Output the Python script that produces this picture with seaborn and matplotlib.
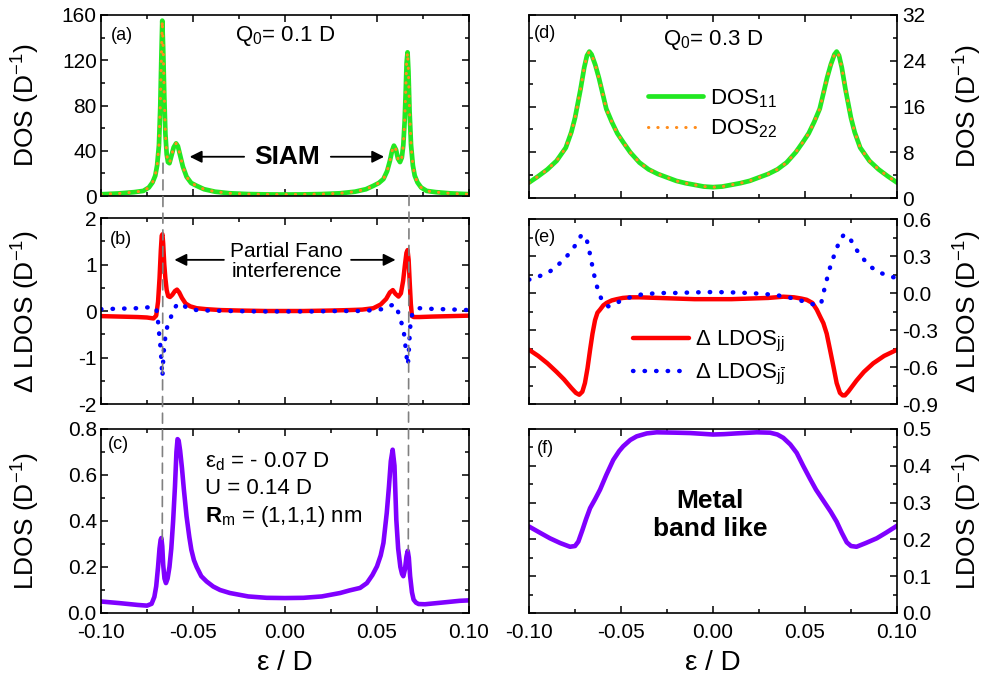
import matplotlib
matplotlib.use("Agg")
import matplotlib.pyplot as plt
from matplotlib.patches import ConnectionPatch
from matplotlib.ticker import MultipleLocator, FormatStrFormatter
import seaborn as sns

# ---- data (energy eps/D, values in 1/D) ----
# (a) Q0 = 0.1 D, DOS11 and DOS22 coincide
eps_a = [-0.100, -0.090, -0.082, -0.077, -0.074, -0.072, -0.0705, -0.0695, -0.0685, -0.0678,
         -0.0672, -0.0667, -0.0662, -0.0656, -0.0650, -0.0643, -0.0636, -0.0628, -0.0618, -0.0605,
         -0.0592, -0.0582, -0.0570, -0.0555, -0.0535, -0.0510, -0.0480, -0.0440, -0.0380, -0.0300,
         -0.0200, -0.0100, 0.0,
         0.0100, 0.0200, 0.0300, 0.0380, 0.0440, 0.0480, 0.0510, 0.0535, 0.0555, 0.0570,
         0.0582, 0.0592, 0.0603, 0.0614, 0.0625, 0.0635, 0.0643, 0.0650, 0.0656, 0.0661,
         0.0666, 0.0671, 0.0677, 0.0685, 0.0695, 0.0705, 0.0720, 0.0740, 0.0770, 0.0820,
         0.0900, 0.1000]
dos_a = [1.5, 2.3, 3.4, 4.5, 7.5, 12, 18, 27, 45, 78,
         122, 155, 130, 88, 55, 37, 30, 29, 35, 43,
         46.5, 44, 36, 26, 17, 11.5, 9, 6, 3.8, 2.4,
         1.7, 1.4, 1.3,
         1.4, 1.7, 2.4, 3.8, 6, 9, 11.5, 15, 22, 31,
         40, 44.5, 41, 33, 30, 34, 45, 65, 92, 118,
         127, 110, 75, 45, 27, 18, 12, 7.5, 4.5, 3.4,
         2.3, 1.6]

# (b) Q0 = 0.1 D, Delta LDOS_jj (red) and Delta LDOS_jj-bar (blue)
eps_b_jj = [-0.100, -0.090, -0.080, -0.075, -0.0715, -0.0700, -0.0690, -0.0682, -0.0675, -0.0670,
            -0.0666, -0.0662, -0.0656, -0.0650, -0.0643, -0.0635, -0.0625, -0.0612, -0.0598, -0.0587,
            -0.0575, -0.0560, -0.0540, -0.0515, -0.0480, -0.0430, -0.0350, -0.0250, -0.0100, 0.0,
            0.0100, 0.0250, 0.0350, 0.0420, 0.0480, 0.0520, 0.0550, 0.0570, 0.0586, 0.0600,
            0.0617, 0.0630, 0.0642, 0.0652, 0.0660, 0.0666, 0.0672, 0.0678, 0.0684, 0.0690,
            0.0700, 0.0730, 0.0800, 0.0900, 0.1000]
dl_jj_b = [-0.11, -0.12, -0.13, -0.14, -0.16, -0.10, 0.20, 0.70, 1.30, 1.62,
           1.65, 1.45, 1.00, 0.70, 0.45, 0.32, 0.30, 0.35, 0.43, 0.46,
           0.40, 0.28, 0.16, 0.10, 0.06, 0.04, 0.02, 0.01, 0.00, 0.00,
           0.00, 0.01, 0.02, 0.03, 0.06, 0.14, 0.26, 0.40, 0.45, 0.37,
           0.31, 0.38, 0.65, 1.00, 1.25, 1.31, 1.10, 0.60, 0.15, -0.11,
           -0.13, -0.13, -0.12, -0.11, -0.10]
eps_b_jjb = [-0.100, -0.090, -0.080, -0.074, -0.0710, -0.0700, -0.0694, -0.0686, -0.0680, -0.0675,
             -0.0670, -0.0666, -0.0661, -0.0655, -0.0648, -0.0640, -0.0625, -0.0607, -0.0590, -0.0570,
             -0.0550, -0.0535, -0.0510, -0.0480, -0.0420, -0.0300, -0.0150, 0.0,
             0.0150, 0.0300, 0.0420, 0.0480, 0.0529, 0.0565, 0.0597, 0.0606, 0.0614, 0.0628,
             0.0642, 0.0650, 0.0655, 0.0660, 0.0668, 0.0672, 0.0676, 0.0680, 0.0685, 0.0695,
             0.0710, 0.0730, 0.0770, 0.0850, 0.0930, 0.1000]
dl_jjb_b = [0.04, 0.05, 0.06, 0.08, 0.09, 0.04, -0.05, -0.41, -0.65, -0.84,
            -1.20, -1.41, -0.98, -0.70, -0.50, -0.34, -0.19, 0.02, 0.12, 0.17,
            0.12, 0.07, 0.04, 0.02, 0.01, 0.00, -0.01, -0.01,
            -0.01, 0.00, 0.00, 0.02, 0.04, 0.11, 0.14, 0.08, -0.01, -0.19,
            -0.37, -0.57, -0.77, -0.96, -1.16, -0.93, -0.65, -0.38, -0.16, -0.02,
            0.03, 0.06, 0.05, 0.04, 0.03, 0.02]

# (c) Q0 = 0.1 D, LDOS
eps_c = [-0.100, -0.090, -0.080, -0.075, -0.0725, -0.0710, -0.0700, -0.0690, -0.0682, -0.0676,
         -0.0672, -0.0667, -0.0662, -0.0655, -0.0647, -0.0638, -0.0628, -0.0618, -0.0608, -0.0598,
         -0.0590, -0.0584, -0.0578, -0.0570, -0.0560, -0.0550, -0.0535, -0.0520, -0.0509, -0.0495,
         -0.0480, -0.0455, -0.0426, -0.0390, -0.0353, -0.0300, -0.0200, -0.0100, 0.0,
         0.0100, 0.0200, 0.0300, 0.0350, 0.0408, 0.0445, 0.0475, 0.0500, 0.0520, 0.0535,
         0.0553, 0.0565, 0.0575, 0.0585, 0.0595, 0.0605, 0.0615, 0.0627, 0.0636, 0.0643,
         0.0652, 0.0660, 0.0667, 0.0673, 0.0680, 0.0690, 0.0699, 0.0712, 0.0726, 0.0760,
         0.0850, 0.0950, 0.1000]
ldos_c = [0.050, 0.043, 0.035, 0.032, 0.040, 0.070, 0.116, 0.200, 0.280, 0.318,
          0.326, 0.290, 0.210, 0.150, 0.130, 0.150, 0.200, 0.280, 0.400, 0.550,
          0.700, 0.756, 0.750, 0.706, 0.630, 0.540, 0.420, 0.330, 0.275, 0.230,
          0.200, 0.160, 0.137, 0.115, 0.100, 0.087, 0.072, 0.066, 0.065,
          0.066, 0.072, 0.087, 0.098, 0.109, 0.130, 0.165, 0.203, 0.250, 0.305,
          0.435, 0.550, 0.660, 0.710, 0.640, 0.405, 0.280, 0.200, 0.170, 0.160,
          0.190, 0.245, 0.270, 0.240, 0.160, 0.090, 0.058, 0.045, 0.039, 0.038,
          0.045, 0.053, 0.055]

# (d) Q0 = 0.3 D, DOS11 and DOS22 coincide
eps_d = [-0.100, -0.095, -0.090, -0.085, -0.080, -0.077, -0.075, -0.072, -0.070, -0.0685,
         -0.0672, -0.066, -0.064, -0.062, -0.060, -0.058, -0.055, -0.052, -0.0487, -0.045,
         -0.040, -0.035, -0.030, -0.025, -0.020, -0.015, -0.010, -0.005, 0.0,
         0.005, 0.010, 0.015, 0.020, 0.025, 0.030, 0.035, 0.040, 0.045, 0.0487,
         0.052, 0.055, 0.058, 0.060, 0.062, 0.064, 0.066, 0.0672, 0.0685, 0.070,
         0.072, 0.075, 0.077, 0.080, 0.085, 0.090, 0.095, 0.100]
dos_d = [2.7, 3.8, 5.0, 6.5, 8.8, 11.5, 14.0, 19.0, 22.8, 24.9,
         25.6, 25.1, 23.3, 21.0, 18.3, 15.6, 13.3, 11.3, 9.7, 8.0,
         6.2, 5.0, 4.2, 3.6, 3.0, 2.6, 2.3, 2.0, 1.9,
         2.0, 2.3, 2.6, 3.0, 3.6, 4.2, 5.0, 6.2, 8.0, 9.7,
         11.3, 13.3, 15.6, 18.3, 21.0, 23.3, 25.1, 25.6, 24.9, 22.8,
         19.0, 14.0, 11.5, 8.8, 6.5, 5.0, 3.8, 2.7]

# (e) Q0 = 0.3 D
eps_e_jj = [-0.100, -0.095, -0.090, -0.085, -0.081, -0.077, -0.0745, -0.0727, -0.0710, -0.0696,
            -0.0682, -0.0668, -0.0655, -0.0641, -0.0628, -0.0614, -0.0596, -0.0578, -0.0550, -0.0523,
            -0.0490, -0.0450, -0.0400, -0.0300, -0.0200, -0.0100, 0.0,
            0.0100, 0.0200, 0.0300, 0.0382, 0.0440, 0.0480, 0.0509, 0.0540, 0.0564, 0.0585,
            0.0600, 0.0618, 0.0636, 0.0655, 0.0672, 0.0690, 0.0705, 0.0717, 0.0735, 0.0760,
            0.0780, 0.0820, 0.0871, 0.0930, 0.1000]
dl_jj_e = [-0.46, -0.51, -0.57, -0.64, -0.70, -0.77, -0.81, -0.825, -0.80, -0.73,
           -0.61, -0.46, -0.33, -0.22, -0.16, -0.135, -0.10, -0.08, -0.06, -0.05,
           -0.04, -0.035, -0.035, -0.04, -0.045, -0.05, -0.05,
           -0.05, -0.045, -0.04, -0.03, -0.035, -0.045, -0.055, -0.08, -0.135, -0.20,
           -0.245, -0.33, -0.46, -0.60, -0.73, -0.81, -0.83, -0.83, -0.80, -0.75,
           -0.71, -0.64, -0.57, -0.51, -0.46]
eps_e_jjb = [-0.100, -0.0945, -0.0886, -0.0840, -0.0795, -0.0760, -0.0735, -0.0714, -0.0700, -0.0686,
             -0.0672, -0.0659, -0.0648, -0.0636, -0.0620, -0.0605, -0.0587, -0.0569, -0.0540, -0.0510,
             -0.0488, -0.0440, -0.0397, -0.0300, -0.0216, -0.0100, 0.0,
             0.0100, 0.0200, 0.0328, 0.0400, 0.0455, 0.0500, 0.0540, 0.0573, 0.0587, 0.0600,
             0.0614, 0.0627, 0.0645, 0.0663, 0.0690, 0.0710, 0.0723, 0.0745, 0.0780, 0.0815,
             0.0853, 0.0900, 0.0950, 0.1000]
dl_jjb_e = [0.108, 0.135, 0.175, 0.23, 0.297, 0.36, 0.42, 0.473, 0.465, 0.43,
            0.34, 0.243, 0.16, 0.08, 0.0, -0.054, -0.09, -0.108, -0.095, -0.07,
            -0.054, -0.03, -0.014, 0.0, 0.0, 0.005, 0.008,
            0.005, 0.0, -0.014, -0.03, -0.054, -0.07, -0.09, -0.10, -0.09, 0.0,
            0.08, 0.162, 0.25, 0.324, 0.432, 0.47, 0.473, 0.44, 0.35, 0.28,
            0.216, 0.17, 0.14, 0.12]

# (f) Q0 = 0.3 D, LDOS
eps_f = [-0.100, -0.0940, -0.0886, -0.0830, -0.0777, -0.0750, -0.0732, -0.0710, -0.0690, -0.0668,
         -0.0640, -0.0614, -0.0580, -0.0542, -0.0510, -0.0488, -0.0450, -0.0415, -0.0360, -0.0306,
         -0.0200, -0.0125, -0.0060, 0.0,
         0.0060, 0.0125, 0.0238, 0.0310, 0.0350, 0.0382, 0.0420, 0.0455, 0.0490, 0.0527,
         0.0560, 0.0600, 0.0640, 0.0672, 0.0700, 0.0727, 0.0750, 0.0780, 0.0830, 0.0890,
         0.0940, 0.1000]
ldos_f = [0.235, 0.218, 0.203, 0.19, 0.18, 0.182, 0.194, 0.225, 0.255, 0.285,
          0.31, 0.335, 0.375, 0.416, 0.44, 0.453, 0.47, 0.48, 0.488, 0.491,
          0.490, 0.489, 0.487, 0.485,
          0.486, 0.488, 0.491, 0.49, 0.485, 0.476, 0.458, 0.435, 0.40, 0.365,
          0.335, 0.305, 0.275, 0.248, 0.218, 0.192, 0.182, 0.18, 0.19, 0.203,
          0.218, 0.237]

# dashed guide lines: (eps, y in panel a) -> (eps, y in panel c)
guides = [(-0.0663, 29, -0.0667, 0.32), (0.0674, 0.5, 0.0670, 0.27)]

# ---- style ----
sns.set_theme(style="ticks")
plt.rcParams["font.family"] = ["Liberation Sans", "DejaVu Sans"]
plt.rcParams["mathtext.fontset"] = "custom"
plt.rcParams["mathtext.rm"] = "Liberation Sans"
plt.rcParams["mathtext.it"] = "Liberation Sans:italic"
plt.rcParams["mathtext.bf"] = "Liberation Sans:bold"
plt.rcParams["axes.unicode_minus"] = False
for k in ["text.color", "axes.labelcolor", "xtick.color", "ytick.color", "axes.edgecolor"]:
    plt.rcParams[k] = "black"

GREEN = "#22E822"
ORANGE = "#FF8C1A"
RED = "#FF0000"
BLUE = "#0000FF"
PURPLE = "#8000FF"
LABEL_SIZE = 19

fig = plt.figure(figsize=(9.84, 6.75), dpi=100)
W, H = 984, 675
def rect(x0, x1, y0, y1):
    return [x0 / W, 1 - y1 / H, (x1 - x0) / W, (y1 - y0) / H]

ax_a = fig.add_axes(rect(101, 469, 15, 196))
ax_b = fig.add_axes(rect(101, 469, 218, 404))
ax_c = fig.add_axes(rect(101, 469, 429, 613))
ax_d = fig.add_axes(rect(529, 897, 15, 198))
ax_e = fig.add_axes(rect(529, 897, 219, 404))
ax_f = fig.add_axes(rect(529, 897, 429, 613))


def style_ax(ax, ylim, major, minor, fmt, right=False, xlabels=False):
    ax.set_xlim(-0.1, 0.1)
    ax.set_ylim(*ylim)
    ax.xaxis.set_major_locator(MultipleLocator(0.05))
    ax.xaxis.set_minor_locator(MultipleLocator(0.025))
    ax.yaxis.set_major_locator(MultipleLocator(major))
    ax.yaxis.set_minor_locator(MultipleLocator(minor))
    ax.xaxis.set_major_formatter(FormatStrFormatter("%.2f"))
    ax.yaxis.set_major_formatter(FormatStrFormatter(fmt))
    ax.tick_params(which="both", direction="in", top=True, bottom=True, left=True, right=True,
                   width=1.1, labelsize=15, labelleft=not right, labelright=right,
                   labelbottom=xlabels)
    ax.tick_params(axis="x", pad=7)
    ax.tick_params(axis="y", pad=3 if not right else 4)
    ax.tick_params(which="major", length=5)
    ax.tick_params(which="minor", length=3)
    for s in ax.spines.values():
        s.set_linewidth(1.2)
        s.set_color("black")
    if right:
        ax.yaxis.set_label_position("right")


# panel a
sns.lineplot(x=eps_a, y=dos_a, ax=ax_a, color=GREEN, lw=3.4, legend=False)
sns.lineplot(x=eps_a, y=dos_a, ax=ax_a, color=ORANGE, lw=2.2, ls=(0, (0.1, 2.95)),
             dash_capstyle="round", legend=False)
style_ax(ax_a, (0, 160), 40, 20, "%d")
ax_a.set_ylabel("DOS (D$^{-1}$)", fontsize=LABEL_SIZE)

# panel b
sns.lineplot(x=eps_b_jj, y=dl_jj_b, ax=ax_b, color=RED, lw=3.2, legend=False)
sns.lineplot(x=eps_b_jjb, y=dl_jjb_b, ax=ax_b, color=BLUE, lw=3.2, ls=(0, (0.1, 2.5)),
             dash_capstyle="round", legend=False)
style_ax(ax_b, (-2, 2), 1, 0.5, "%d")
ax_b.set_ylabel("Δ LDOS (D$^{-1}$)", fontsize=LABEL_SIZE)

# panel c
sns.lineplot(x=eps_c, y=ldos_c, ax=ax_c, color=PURPLE, lw=3.3, legend=False)
style_ax(ax_c, (0, 0.8), 0.2, 0.1, "%.1f", xlabels=True)
ax_c.set_ylabel("LDOS (D$^{-1}$)", fontsize=LABEL_SIZE)
ax_c.set_xlabel("ε / D", fontsize=20)

# panel d
sns.lineplot(x=eps_d, y=dos_d, ax=ax_d, color=GREEN, lw=3.4, label="DOS$_{11}$")
sns.lineplot(x=eps_d, y=dos_d, ax=ax_d, color=ORANGE, lw=2.2, ls=(0, (0.1, 2.95)),
             dash_capstyle="round", label="DOS$_{22}$")
style_ax(ax_d, (0, 32), 8, 4, "%d", right=True)
ax_d.set_ylabel("DOS (D$^{-1}$)", fontsize=LABEL_SIZE)
ax_d.legend(loc="center left", bbox_to_anchor=(0.323, 0.462), frameon=False, fontsize=16,
            handlelength=2.5, handletextpad=0.3, borderpad=0, borderaxespad=0, labelspacing=0.35)

# panel e
sns.lineplot(x=eps_e_jj, y=dl_jj_e, ax=ax_e, color=RED, lw=3.2, label="Δ LDOS$_\\mathrm{jj}$")
sns.lineplot(x=eps_e_jjb, y=dl_jjb_e, ax=ax_e, color=BLUE, lw=3.2, ls=(0, (0.1, 2.5)),
             dash_capstyle="round", label="Δ LDOS$_{\\mathrm{j}\\bar{\\mathrm{j}}}$")
style_ax(ax_e, (-0.9, 0.6), 0.3, 0.15, "%.1f", right=True)
ax_e.set_ylabel("Δ LDOS (D$^{-1}$)", fontsize=LABEL_SIZE)
ax_e.legend(loc="center left", bbox_to_anchor=(0.283, 0.249), frameon=False, fontsize=16,
            handlelength=2.5, handletextpad=0.3, borderpad=0, borderaxespad=0, labelspacing=0.35)

# panel f
sns.lineplot(x=eps_f, y=ldos_f, ax=ax_f, color=PURPLE, lw=3.3, legend=False)
style_ax(ax_f, (0, 0.5), 0.1, 0.05, "%.1f", right=True, xlabels=True)
ax_f.set_ylabel("LDOS (D$^{-1}$)", fontsize=LABEL_SIZE)
ax_f.set_xlabel("ε / D", fontsize=20)

for ax in [ax_a, ax_b, ax_c]:
    ax.yaxis.set_label_coords(-0.16, 0.5)
for ax in [ax_d, ax_e, ax_f]:
    ax.yaxis.set_label_coords(1.15, 0.5)
for ax in [ax_c, ax_f]:
    ax.xaxis.set_label_coords(0.5, -0.2)

# annotations
arrow = dict(arrowstyle="-|>", color="black", lw=1.3, mutation_scale=18)
ax_a.text(-0.0887, 142, "(a)", fontsize=13, ha="center", va="center")
ax_a.text(0.0, 141, "Q$_0$= 0.1 D", fontsize=16, ha="center", va="center")
ax_a.text(0.001, 34.5, "SIAM", fontsize=19, weight="bold", ha="center", va="center")
ax_a.annotate("", xy=(-0.0533, 34.7), xytext=(-0.0207, 34.7), arrowprops=arrow)
ax_a.annotate("", xy=(0.0554, 34.7), xytext=(0.0234, 34.7), arrowprops=arrow)

ax_b.text(-0.0893, 1.53, "(b)", fontsize=13, ha="center", va="center")
ax_b.text(0.001, 1.06, "Partial Fano\ninterference", fontsize=15, ha="center", va="center",
          linespacing=1.1)
ax_b.annotate("", xy=(-0.0616, 1.1), xytext=(-0.0317, 1.1), arrowprops=arrow)
ax_b.annotate("", xy=(0.0616, 1.1), xytext=(0.0344, 1.1), arrowprops=arrow)

ax_c.text(-0.0906, 0.733, "(c)", fontsize=13, ha="center", va="center")
ax_c.text(-0.0435, 0.659, "ε$_\\mathrm{d}$ = - 0.07 D", fontsize=16, ha="left", va="center")
ax_c.text(-0.0435, 0.543, "U = 0.14 D", fontsize=16, ha="left", va="center")
ax_c.text(-0.0435, 0.42, "$\\mathbf{R}_\\mathrm{m}$ = (1,1,1) nm", fontsize=16, ha="left",
          va="center")

ax_d.text(-0.0913, 28.8, "(d)", fontsize=13, ha="center", va="center")
ax_d.text(0.0, 27.6, "Q$_0$= 0.3 D", fontsize=16, ha="center", va="center")
ax_e.text(-0.0913, 0.446, "(e)", fontsize=13, ha="center", va="center")
ax_f.text(-0.0913, 0.448, "(f)", fontsize=13, ha="center", va="center")
ax_f.text(-0.0016, 0.266, "Metal\nband like", fontsize=19, weight="bold", ha="center",
          va="center", linespacing=1.2)

for xa, ya, xc, yc in guides:
    con = ConnectionPatch(xyA=(xa, ya), coordsA=ax_a.transData, xyB=(xc, yc),
                          coordsB=ax_c.transData, color="#808080", lw=1.2, ls=(0, (6, 4)))
    fig.add_artist(con)

fig.savefig("out.png", dpi=100)
